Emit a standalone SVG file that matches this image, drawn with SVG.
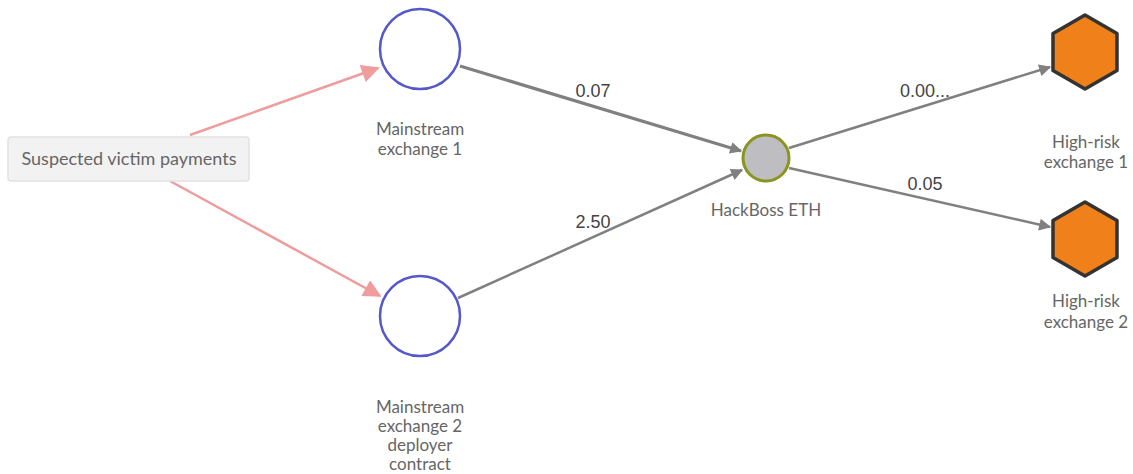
<svg xmlns="http://www.w3.org/2000/svg" width="1133" height="474" viewBox="0 0 1133 474">
<style>
.lbl{font-family:Lato,"Noto Sans",sans-serif;font-size:17px;fill:#666;text-anchor:middle}
.elbl{font-family:"Liberation Sans",Arial,sans-serif;font-size:18px;fill:#444;text-anchor:middle}
.ring{fill:#fff;stroke:#5558c8;stroke-width:2.5}
.hex{fill:#f0801a;stroke:#333;stroke-width:3.5;stroke-linejoin:round}
.pink{stroke:#ee9c9c;stroke-width:2.5;fill:none}
.gray{stroke:#808080;stroke-width:2.5;fill:none}
</style>
<defs>
<marker id="apL" viewBox="0 0 10 10" refX="9" refY="5" markerWidth="24" markerHeight="18" markerUnits="userSpaceOnUse" orient="auto"><path d="M0,0 L10,5 L0,10 z" fill="#ee9c9c"/></marker>
<marker id="agL" viewBox="0 0 10 10" refX="9" refY="5" markerWidth="16" markerHeight="12" markerUnits="userSpaceOnUse" orient="auto"><path d="M0,0 L10,5 L0,10 z" fill="#808080"/></marker>
</defs>
<rect width="1133" height="474" fill="#fff"/>
<g id="connectors">
<line class="pink" x1="190" y1="135" x2="378" y2="68" marker-end="url(#apL)"/>
<line class="pink" x1="170" y1="181" x2="380" y2="296" marker-end="url(#apL)"/>
<line class="gray" style="stroke-width:3.2" x1="460" y1="66" x2="741" y2="151" marker-end="url(#agL)"/>
<line class="gray" x1="458" y1="298" x2="742" y2="170" marker-end="url(#agL)"/>
<line class="gray" x1="789" y1="148" x2="1050" y2="67" marker-end="url(#agL)"/>
<line class="gray" x1="789" y1="168" x2="1050" y2="227" marker-end="url(#agL)"/>
<text class="elbl" x="593" y="97">0.07</text>
<text class="elbl" x="593" y="228">2.50</text>
<text class="elbl" x="925" y="97">0.00...</text>
<text class="elbl" x="925" y="190">0.05</text>
</g>
<g id="victim">
<rect x="8" y="137" width="241" height="44" rx="3" fill="#f2f2f2" stroke="#e2e2e2" stroke-width="1.5"/>
<text class="lbl" x="129" y="165" style="font-size:18px">Suspected victim payments</text>
</g>
<g id="mainstream1">
<circle class="ring" cx="420" cy="49" r="40"/>
<text class="lbl" x="420" y="135">Mainstream</text>
<text class="lbl" x="420" y="155">exchange 1</text>
</g>
<g id="mainstream2">
<circle class="ring" cx="420" cy="316" r="40"/>
<text class="lbl" x="420" y="413">Mainstream</text>
<text class="lbl" x="420" y="432">exchange 2</text>
<text class="lbl" x="420" y="451">deployer</text>
<text class="lbl" x="420" y="470">contract</text>
</g>
<g id="hackboss">
<circle cx="766" cy="158" r="23" fill="#bdbdc2" stroke="#8c9420" stroke-width="3"/>
<text class="lbl" x="766" y="216">HackBoss ETH</text>
</g>
<g id="highrisk1">
<polygon class="hex" points="1085,15 1117,33.5 1117,70.5 1085,89 1053,70.5 1053,33.5"/>
<text class="lbl" x="1086" y="148">High-risk</text>
<text class="lbl" x="1086" y="168">exchange 1</text>
</g>
<g id="highrisk2">
<polygon class="hex" points="1085,202 1117,220.5 1117,257.5 1085,276 1053,257.5 1053,220.5"/>
<text class="lbl" x="1086" y="307">High-risk</text>
<text class="lbl" x="1086" y="328">exchange 2</text>
</g>
</svg>
